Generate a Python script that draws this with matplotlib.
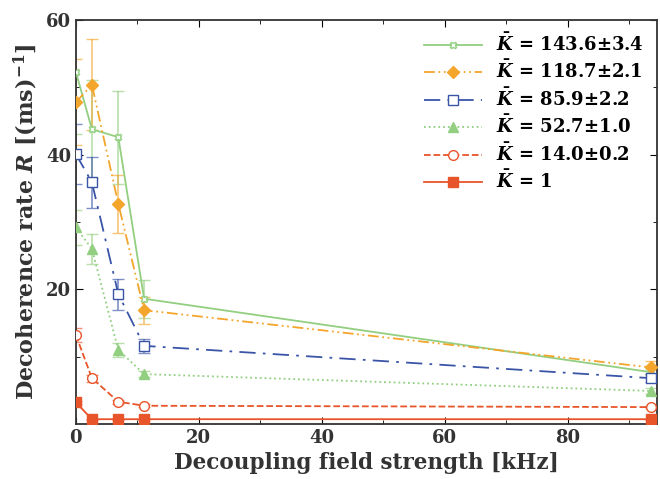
import numpy as np
import matplotlib
matplotlib.use("Agg")
import matplotlib.pyplot as plt

plt.rcParams['font.family'] = 'DejaVu Serif'
plt.rcParams['font.weight'] = 'bold'
plt.rcParams['mathtext.fontset'] = 'custom'
plt.rcParams['mathtext.rm'] = 'DejaVu Serif:bold'
plt.rcParams['mathtext.it'] = 'DejaVu Serif:italic:bold'
plt.rcParams['mathtext.bf'] = 'DejaVu Serif:bold'

# decoupling field strength [kHz]
field = [0, 2.6, 6.9, 11.1, 93.5]

# decoherence rates and error bars, one series per K
r_143 = [52.3, 43.8, 42.6, 18.6, 7.7]
e_143 = [9.2, 7.3, 6.9, 2.8, 0.5]
r_118 = [47.8, 50.4, 32.7, 16.9, 8.4]
e_118 = [6.4, 6.8, 4.3, 2.0, 1.0]
r_85 = [40.1, 35.9, 19.3, 11.6, 6.8]
e_85 = [4.4, 3.8, 2.3, 1.0, 0.6]
r_52 = [29.2, 26.0, 11.0, 7.4, 4.9]
e_52 = [2.6, 2.2, 1.0, 0.5, 0.4]
r_14 = [13.2, 6.8, 3.3, 2.7, 2.5]
e_14 = [1.0, 0.5, 0.3, 0.2, 0.2]
r_1 = [3.2, 0.7, 0.7, 0.7, 0.7]
e_1 = [0.2, 0.1, 0.1, 0.1, 0.1]

labels = [r'$\bar{K}$ = 143.6±3.4', r'$\bar{K}$ = 118.7±2.1', r'$\bar{K}$ = 85.9±2.2',
          r'$\bar{K}$ = 52.7±1.0', r'$\bar{K}$ = 14.0±0.2', r'$\bar{K}$ = 1']

green = '#92cf80'
orange = '#f4a52c'
blue = '#3a55a8'
red = '#e8552a'

fig = plt.figure(figsize=(6.6, 4.79), dpi=100)
ax = fig.add_axes([0.115, 0.115, 0.88, 0.843])

series = [
    (r_143, e_143, green, '-', 'X', 'white', 5),
    (r_118, e_118, orange, (0, (6, 2, 1, 2, 1, 2)), 'D', orange, 6),
    (r_85, e_85, blue, (0, (9, 4, 1.5, 4)), 's', 'white', 7),
    (r_52, e_52, green, ':', '^', green, 7),
    (r_14, e_14, red, '--', 'o', 'white', 7),
    (r_1, e_1, red, '-', 's', red, 7),
]

handles = []
for (r, e, c, ls, mk, mfc, ms), lab in zip(series, labels):
    ax.errorbar(field, r, yerr=e, fmt='none', ecolor=c, alpha=0.65,
                capsize=4, elinewidth=1.2, zorder=2)
    h, = ax.plot(field, r, color=c, linestyle=ls, marker=mk, mfc=mfc,
                 mec=c, ms=ms, lw=1.3, label=lab, zorder=3)
    handles.append(h)

ax.set_xlim(0, 94.5)
ax.set_ylim(0, 60)
ax.set_xticks([0, 20, 40, 60, 80])
ax.set_xticks(np.arange(10, 95, 20), minor=True)
ax.set_yticks([20, 40, 60])
ax.set_yticks([10, 30, 50], minor=True)
ax.tick_params(which='both', direction='in', top=True, right=True, labelsize=13,
               labelcolor='#333333')
ax.tick_params(which='major', length=5)
ax.tick_params(which='minor', length=3)
for s in ax.spines.values():
    s.set_linewidth(1.3)
    s.set_color('#333333')

ax.set_xlabel('Decoupling field strength [kHz]', fontsize=15.5, fontweight='bold', color='#333333')
ax.set_ylabel(r'Decoherence rate $R$ [(ms)$^{-1}$]', fontsize=16, fontweight='bold', color='#333333')

ax.legend(handles=handles, loc='upper right', frameon=False, fontsize=13,
          handlelength=3.2, labelspacing=0.3, borderaxespad=0.3)

fig.savefig('out.png', dpi=100)
